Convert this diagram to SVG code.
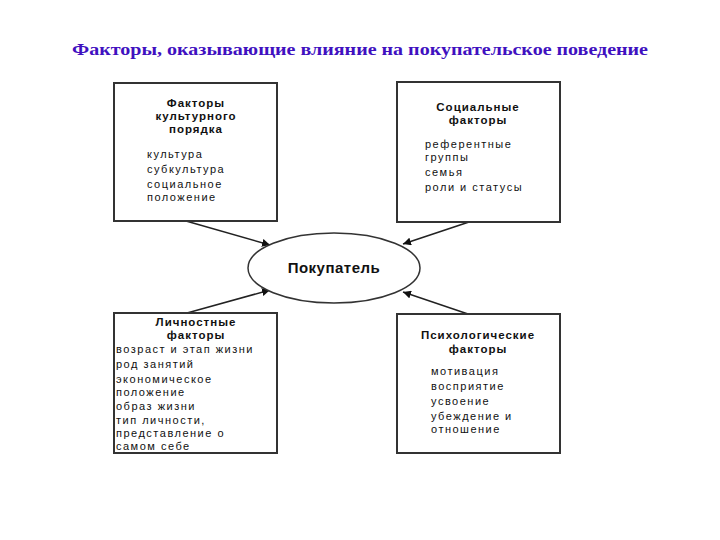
<svg xmlns="http://www.w3.org/2000/svg" width="720" height="540" viewBox="0 0 720 540">
  <style>
    .title { font-family: "Liberation Serif", "Times New Roman", serif; font-weight: bold; font-size: 17px; fill: #4010C0; }
    .box { fill: #ffffff; stroke: #333333; stroke-width: 2; }
    .hd { font-family: "Liberation Sans", Arial, sans-serif; font-weight: bold; font-size: 11.5px; fill: #111111; text-anchor: middle; letter-spacing: 1px; }
    .it { font-family: "Liberation Sans", Arial, sans-serif; font-size: 11px; fill: #111111; letter-spacing: 1.5px; }
    .center { font-family: "Liberation Sans", Arial, sans-serif; font-weight: bold; font-size: 15px; fill: #111111; text-anchor: middle; letter-spacing: 0.5px; }
    .conn { stroke: #222222; stroke-width: 1.5; fill: none; marker-end: url(#arrow); }
  </style>
  <defs>
    <marker id="arrow" viewBox="0 0 10 10" refX="10" refY="5" markerWidth="8" markerHeight="8" markerUnits="userSpaceOnUse" orient="auto">
      <path d="M0,0 L10,5 L0,10 Z" fill="#111111"/>
    </marker>
  </defs>
  <rect width="720" height="540" fill="#ffffff"/>
  <text class="title" x="72" y="55" textLength="576" lengthAdjust="spacingAndGlyphs">Факторы, оказывающие влияние на покупательское поведение</text>

  <g id="connectors">
    <line class="conn" x1="186" y1="221" x2="270" y2="245"/>
    <line class="conn" x1="472" y1="221" x2="403" y2="244"/>
    <line class="conn" x1="187" y1="313" x2="270" y2="290"/>
    <line class="conn" x1="468" y1="314" x2="403" y2="292"/>
  </g>

  <g id="cultural">
    <rect class="box" x="114" y="83" width="163" height="138"/>
    <text class="hd" x="196" y="107">Факторы</text>
    <text class="hd" x="196" y="120">культурного</text>
    <text class="hd" x="196" y="133">порядка</text>
    <text class="it" x="147" y="158">культура</text>
    <text class="it" x="147" y="173">субкультура</text>
    <text class="it" x="147" y="188">социальное</text>
    <text class="it" x="147" y="201">положение</text>
  </g>

  <g id="social">
    <rect class="box" x="397" y="82" width="163" height="140"/>
    <text class="hd" x="478" y="111">Социальные</text>
    <text class="hd" x="478" y="124">факторы</text>
    <text class="it" x="425" y="148">референтные</text>
    <text class="it" x="425" y="161">группы</text>
    <text class="it" x="425" y="176">семья</text>
    <text class="it" x="425" y="191">роли и статусы</text>
  </g>

  <g id="buyer">
    <ellipse cx="334" cy="268" rx="86" ry="35" fill="#ffffff" stroke="#333333" stroke-width="1.5"/>
    <text class="center" x="334" y="273">Покупатель</text>
  </g>

  <g id="personal">
    <rect class="box" x="114" y="313" width="163" height="140"/>
    <text class="hd" x="196" y="326">Личностные</text>
    <text class="hd" x="196" y="339">факторы</text>
    <text class="it" x="116" y="353">возраст и этап жизни</text>
    <text class="it" x="116" y="368">род занятий</text>
    <text class="it" x="116" y="383">экономическое</text>
    <text class="it" x="116" y="396">положение</text>
    <text class="it" x="116" y="410">образ жизни</text>
    <text class="it" x="116" y="424">тип личности,</text>
    <text class="it" x="116" y="437">представление о</text>
    <text class="it" x="116" y="450">самом себе</text>
  </g>

  <g id="psychological">
    <rect class="box" x="397" y="314" width="163" height="139"/>
    <text class="hd" x="478" y="339">Психологические</text>
    <text class="hd" x="478" y="353">факторы</text>
    <text class="it" x="431" y="375">мотивация</text>
    <text class="it" x="431" y="390">восприятие</text>
    <text class="it" x="431" y="405">усвоение</text>
    <text class="it" x="431" y="420">убеждение и</text>
    <text class="it" x="431" y="433">отношение</text>
  </g>
</svg>
